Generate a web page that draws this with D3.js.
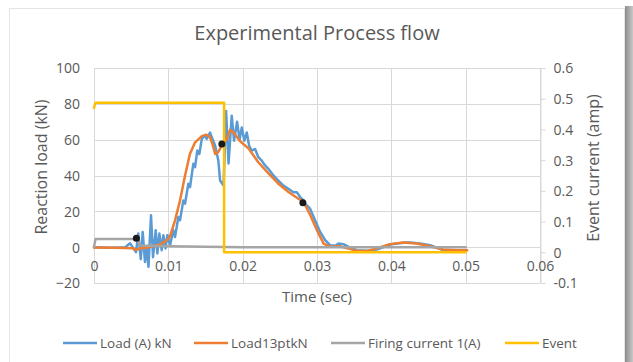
<!DOCTYPE html>
<html>
<head>
<meta charset="utf-8">
<script src="https://cdn.jsdelivr.net/npm/d3@7"></script>
<style>
  html, body { margin: 0; padding: 0; background: #ffffff; }
  svg { display: block; }
  text { font-family: "Open Sans", "Liberation Sans", sans-serif; fill: #595959; }
</style>
</head>
<body>
<svg id="chart" width="633" height="362"></svg>
<script>
// ---------------- DATA ----------------
const chartTitle = "Experimental Process flow";
const xTicks = [0, 0.01, 0.02, 0.03, 0.04, 0.05, 0.06];
const xTickLabels = ["0", "0.01", "0.02", "0.03", "0.04", "0.05", "0.06"];
const leftTicks = [-20, 0, 20, 40, 60, 80, 100];
const rightTicks = [-0.1, 0, 0.1, 0.2, 0.3, 0.4, 0.5, 0.6];
const rightTickLabels = ["-0.1", "0", "0.1", "0.2", "0.3", "0.4", "0.5", "0.6"];
const seriesNames = ["Load (A) kN", "Load13ptkN", "Firing current 1(A)", "Event"];

// Load (A) kN  [time s, kN]
const loadATime = [0, 0.00215, 0.0042, 0.00485, 0.00565, 0.00596, 0.00629, 0.00655, 0.00686, 0.00709, 0.00733, 0.00767, 0.00794, 0.0083, 0.00852, 0.00879, 0.00911, 0.00933, 0.00962, 0.00987, 0.01023, 0.01067, 0.0109, 0.01135, 0.01157, 0.01202, 0.01225, 0.01269, 0.01292, 0.01336, 0.01359, 0.0139, 0.01417, 0.0145, 0.01494, 0.01517, 0.01561, 0.01584, 0.01629, 0.01673, 0.01696, 0.01743, 0.01777, 0.0181, 0.01853, 0.01884, 0.01925, 0.01958, 0.01988, 0.02023, 0.02055, 0.02086, 0.02122, 0.02167, 0.02211, 0.02257, 0.02301, 0.02346, 0.02413, 0.0248, 0.02548, 0.02615, 0.02682, 0.02728, 0.02773, 0.02817, 0.0284, 0.02907, 0.02974, 0.03042, 0.0311, 0.03176, 0.03244, 0.03288, 0.03355, 0.03445, 0.03536, 0.0367, 0.03805, 0.03984, 0.04186, 0.04253, 0.04388, 0.04522, 0.04701, 0.04836, 0.04966];
const loadAValues = [0, -0.3, 0, 2.2, -2.8, 7.6, -6.7, 8.5, -8.3, 0.2, -11, 17.8, -5.6, 9.4, -3.5, 7.6, -1.7, 6.7, -0.7, 6.7, 1.1, 9.4, 5.7, 16.8, 15, 26.1, 24.3, 35.4, 33.5, 46.5, 44.6, 53.9, 52, 60.4, 62.2, 60.4, 64, 61.3, 56.7, 48.3, 37.2, 34.4, 76, 46.7, 73.3, 59.4, 70, 60, 66.8, 59.4, 64, 56.7, 53.9, 54.8, 50.2, 48.3, 45.6, 43.7, 40, 37.2, 34.4, 32.6, 30.7, 30.7, 28, 26.1, 24.3, 21.5, 15, 8.5, 3.9, 1.1, 0.8, 2, 1.7, -0.2, -1.7, -2, -1.3, 1.5, 2.6, 2.6, 2, 1.1, -1.7, -2, -1.7];

// Load13ptkN  [time s, kN]
const load13Time = [0, 0.003, 0.0052, 0.0057, 0.0062, 0.007, 0.0079, 0.0086, 0.0093, 0.0098, 0.0102, 0.0109, 0.01157, 0.0122, 0.0129, 0.0136, 0.0145, 0.0151, 0.0156, 0.0159, 0.0163, 0.0167, 0.0172, 0.0179, 0.0183, 0.0188, 0.0196, 0.0208, 0.0221, 0.0235, 0.0248, 0.0262, 0.0275, 0.0282, 0.0291, 0.03, 0.0309, 0.0318, 0.0331, 0.0342, 0.0354, 0.0367, 0.038, 0.0398, 0.0416, 0.0434, 0.0452, 0.047, 0.0488, 0.0502];
const load13Values = [-0.2, -0.3, -0.6, -1.5, -0.6, -0.3, 0.5, 1.2, 2.5, 4, 5.7, 15, 26, 39, 52, 58.5, 62, 62.8, 61.5, 58, 52, 53, 56.7, 60.5, 65.5, 64, 59.4, 55, 47.4, 41, 35.4, 30.7, 27, 25.2, 17.8, 9.4, 2, 0.2, 0.5, -0.7, -2.2, -2.2, -0.7, 1.7, 2.6, 2, 0.5, -1.3, -1.7, -1.7];

// Firing current 1(A)  [time s, amp] (right axis)
const firingTime = [0, 0.0002, 0.0058, 0.0062, 0.01, 0.015, 0.02, 0.05];
const firingValues = [0.017, 0.043, 0.043, 0.022, 0.02, 0.018, 0.016, 0.016];

// Event  [time s, amp] (right axis)
const eventTime = [0, 0.0002, 0.0175, 0.0175, 0.05];
const eventValues = [0.47, 0.487, 0.487, 0, 0];

// Highlighted points (kN)
const markerTime = [0.0057, 0.0172, 0.0281];
const markerValues = [5, 57.6, 24.8];

// ---------------- DRAW ----------------
const svg = d3.select("#chart");
const W = 633, H = 362;
const plot = { left: 94, right: 540, top: 68, bottom: 283 };

const colors = ["#5b9bd5", "#ed7d31", "#a5a5a5", "#ffc000"];

// frame
const defs = svg.append("defs");
const grad = defs.append("linearGradient").attr("id", "shadow").attr("x1", "0").attr("x2", "1").attr("y1", "0").attr("y2", "0");
grad.append("stop").attr("offset", "0%").attr("stop-color", "#8c8c8c");
grad.append("stop").attr("offset", "100%").attr("stop-color", "#c8c8c8");

svg.append("rect").attr("x", 0).attr("y", 0).attr("width", W).attr("height", H).attr("fill", "#ffffff");
svg.append("rect").attr("x", 9.5).attr("y", 8.5).attr("width", 615).attr("height", 370)
  .attr("fill", "#ffffff").attr("stroke", "#e4e4e4");
svg.append("rect").attr("x", 625).attr("y", 6).attr("width", 8).attr("height", H)
  .attr("fill", "url(#shadow)");

const x = d3.scaleLinear().domain([0, 0.06]).range([plot.left, plot.right]);
const yL = d3.scaleLinear().domain([-20, 100]).range([plot.bottom, plot.top]);
const yR = d3.scaleLinear().domain([-0.1, 0.6]).range([plot.bottom, plot.top]);

// gridlines
const grid = svg.append("g").attr("stroke", "#d9d9d9").attr("stroke-width", 1);
leftTicks.forEach(v => {
  grid.append("line").attr("x1", plot.left).attr("x2", plot.right)
    .attr("y1", Math.round(yL(v)) + 0.5).attr("y2", Math.round(yL(v)) + 0.5);
});
xTicks.forEach(v => {
  grid.append("line").attr("y1", plot.top).attr("y2", plot.bottom)
    .attr("x1", Math.round(x(v)) + 0.5).attr("x2", Math.round(x(v)) + 0.5);
});

// right axis with outward ticks
const rAxis = svg.append("g").attr("transform", `translate(${Math.round(plot.right) + 0.5},0)`)
  .call(d3.axisRight(yR).tickValues(rightTicks).tickSize(5).tickPadding(8)
    .tickFormat((d, i) => rightTickLabels[i]));
rAxis.select(".domain").attr("stroke", "#d9d9d9");
rAxis.selectAll(".tick line").attr("stroke", "#d9d9d9");
rAxis.selectAll("text").style("font-size", "14px").attr("fill", "#595959").attr("dy", "0.35em");

// left axis labels
const lAxis = svg.append("g").attr("transform", `translate(${plot.left},0)`)
  .call(d3.axisLeft(yL).tickValues(leftTicks).tickSize(0).tickPadding(14));
lAxis.select(".domain").remove();
lAxis.selectAll("text").style("font-size", "14px").attr("fill", "#595959").attr("dy", "0.35em");

// x axis labels positioned below zero line
const xAxis = svg.append("g").attr("transform", `translate(0,${yL(0)})`)
  .call(d3.axisBottom(x).tickValues(xTicks).tickSize(0).tickPadding(14)
    .tickFormat((d, i) => xTickLabels[i]));
xAxis.select(".domain").remove();
xAxis.selectAll("text").style("font-size", "14px").attr("fill", "#595959");

// series
const lineL = d3.line().x(d => x(d[0])).y(d => yL(d[1]));
const lineR = d3.line().x(d => x(d[0])).y(d => yR(d[1]));
const zip = (a, b) => a.map((t, i) => [t, b[i]]);

const seriesG = svg.append("g").attr("fill", "none").attr("stroke-linejoin", "round").attr("stroke-linecap", "round");
seriesG.append("path").attr("d", lineL(zip(loadATime, loadAValues))).attr("stroke", colors[0]).attr("stroke-width", 2.5);
seriesG.append("path").attr("d", lineL(zip(load13Time, load13Values))).attr("stroke", colors[1]).attr("stroke-width", 2.5);
seriesG.append("path").attr("d", lineR(zip(firingTime, firingValues))).attr("stroke", colors[2]).attr("stroke-width", 2.5);
seriesG.append("path").attr("d", lineR(zip(eventTime, eventValues))).attr("stroke", colors[3]).attr("stroke-width", 2.5);

svg.append("g").selectAll("circle").data(zip(markerTime, markerValues)).join("circle")
  .attr("cx", d => x(d[0])).attr("cy", d => yL(d[1])).attr("r", 3.5).attr("fill", "#1a1a1a");

// titles
svg.append("text").attr("x", 317).attr("y", 40).attr("text-anchor", "middle")
  .style("font-size", "20px").text(chartTitle);
svg.append("text").attr("transform", "translate(47,167) rotate(-90)").attr("text-anchor", "middle")
  .style("font-size", "16px").text("Reaction load (kN)");
svg.append("text").attr("transform", "translate(599,168) rotate(-90)").attr("text-anchor", "middle")
  .style("font-size", "16px").text("Event current (amp)");
svg.append("text").attr("x", 317).attr("y", 302).attr("text-anchor", "middle")
  .style("font-size", "15px").text("Time (sec)");

// legend
const legendX = [63, 194, 331, 505];
const leg = svg.append("g");
seriesNames.forEach((name, i) => {
  leg.append("line").attr("x1", legendX[i]).attr("x2", legendX[i] + 34)
    .attr("y1", 343).attr("y2", 343).attr("stroke", colors[i]).attr("stroke-width", 2.5);
  leg.append("text").attr("x", legendX[i] + 37).attr("y", 343).attr("dy", "0.35em")
    .style("font-size", "13.5px").text(name);
});
</script>
</body>
</html>
